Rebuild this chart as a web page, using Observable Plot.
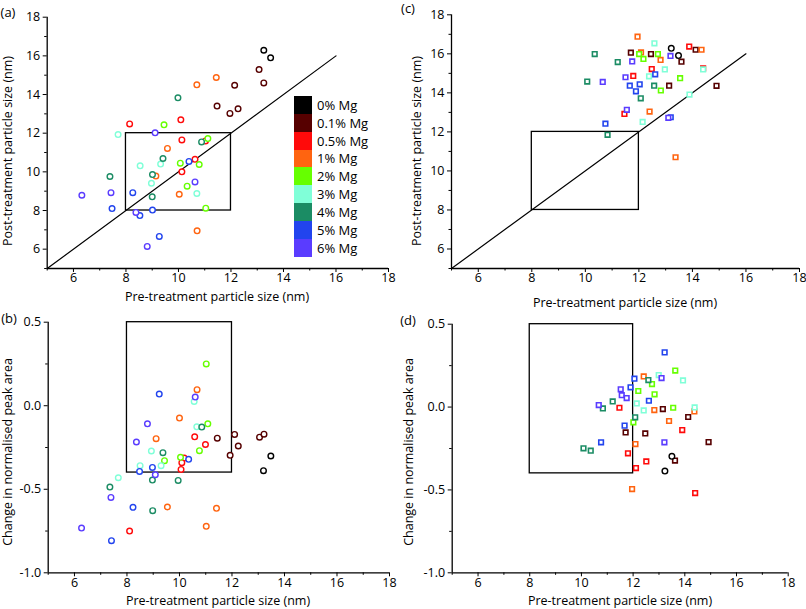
<!DOCTYPE html>
<html><head><meta charset="utf-8">
<script src="https://cdn.jsdelivr.net/npm/d3@7"></script>
<script src="https://cdn.jsdelivr.net/npm/@observablehq/plot@0.6"></script>
<style>
body{margin:0;background:#fff;}
#fig{position:relative;width:806px;height:609px;font-family:"Open Sans",sans-serif;overflow:hidden;background:#fff}
#fig svg{position:absolute;left:0;top:0}
.t{position:absolute;white-space:nowrap;color:#000;line-height:1;transform:translate(-50%,-50%)}
.yl{transform:translate(-50%,-50%) rotate(-90deg)}
.sw{position:absolute;width:18px}
</style></head><body><div id="fig"></div><script>
// ---- groups ----
const groups = ["0% Mg","0.1% Mg","0.5% Mg","1% Mg","2% Mg","3% Mg","4% Mg","5% Mg","6% Mg"];
const groupColors = ["#000000","#560000","#ff0a0a","#ff6410","#66ff00","#80ffd8","#1b8c64","#2244ee","#5a3cff"];

// ---- axis ticks ----
const sizeMajor = [6,8,10,12,14,16,18];
const sizeMinor = [5,7,9,11,13,15,17];
const changeMajor = [0.5,0,-0.5,-1.0];
const changeMinor = [0.25,-0.25,-0.75];
const sizeDomain = [5,18];
const changeDomain = [-1,0.5];

// ---- guides ----
const diagonal = [5,16];
const boxPre = [8,12];
const boxPost = [8,12];
const boxChange = [-0.4,0.5];

// ---- panel (a): pre vs post size (circles) ----
const aPre  = [13.25,13.51, 13.07,13.25,12.14,11.47,12.27,11.96, 8.14,10.09,10.13,11.03,10.63,10.13, 10.7,11.44,9.58,9.14,10.03,10.71, 9.45,11.12,10.07,10.79,10.33,11.04, 7.7,8.54,9.32,8.97,10.7, 9.98,10.88,9.41,9.01,7.39,9.0, 10.4,8.26,7.47,9.01,8.53,9.27, 9.11,10.63,7.43,8.38,8.81,6.32];
const aPost = [16.29,15.9, 15.29,14.6,14.48,13.4,13.26,13.02, 12.48,12.69,11.65,11.6,10.65,10.0, 14.5,14.88,11.21,9.78,8.84,6.95, 12.43,11.72,10.45,10.38,9.26,8.12, 11.93,10.31,10.4,9.41,8.88, 13.83,11.55,10.69,9.86,9.76,8.71, 10.54,8.92,8.1,8.02,7.74,6.66, 12.02,9.48,8.92,7.9,6.14,8.79];
const aGroup = [0,0, 1,1,1,1,1,1, 2,2,2,2,2,2, 3,3,3,3,3,3, 4,4,4,4,4,4, 5,5,5,5,5, 6,6,6,6,6,6, 7,7,7,7,7,7, 8,8,8,8,8,8];

// ---- panel (b): pre size vs change in peak area (circles) ----
const bPre    = [13.2,13.48, 11.44,12.1,13.05,13.22,12.24,11.93, 10.58,10.99,10.18,10.09,10.06,8.1, 10.67,10.0,9.11,9.54,11.41,11.02, 11.02,11.08,10.76,10.04,9.43, 10.56,10.66,8.93,8.5,9.3,7.67, 10.85,9.37,8.97,9.95,7.35,8.98, 9.23,10.35,8.97,8.48,8.23,7.41, 10.6,8.78,8.36,9.08,7.39,6.27];
const bChange = [-0.389,-0.301, -0.194,-0.172,-0.188,-0.17,-0.241,-0.297, -0.186,-0.232,-0.313,-0.341,-0.381,-0.75, 0.096,-0.074,-0.197,-0.606,-0.614,-0.722, 0.25,-0.108,-0.269,-0.309,-0.329, 0.026,-0.126,-0.271,-0.359,-0.359,-0.431, -0.128,-0.281,-0.445,-0.447,-0.487,-0.628, 0.07,-0.321,-0.369,-0.393,-0.608,-0.808, 0.052,-0.108,-0.217,-0.413,-0.549,-0.732];
const bGroup  = [0,0, 1,1,1,1,1,1, 2,2,2,2,2,2, 3,3,3,3,3,3, 4,4,4,4,4, 5,5,5,5,5,5, 6,6,6,6,6,6, 7,7,7,7,7,7, 8,8,8,8,8,8];

// ---- panel (c): pre vs post size (squares; 0% as circles) ----
const cPre  = [13.21,13.48, 11.7,12.45,13.59,14.12,13.13,14.9, 13.88,12.48,11.79,11.46,14.4, 12.08,11.95,14.34,12.81,12.4,13.37, 12.01,12.17,12.71,13.54,12.82, 12.58,12.97,12.38,13.89,12.14,14.4, 10.35,11.21,10.07,12.57,12.07,10.83, 12.61,11.66,12.03,11.89,10.75,13.19, 13.18,11.75,11.5,10.65,11.55,13.1];
const cPost = [16.28,15.91, 16.06,15.99,15.6,16.21,14.37,14.36, 16.37,15.22,14.87,12.92,15.25, 16.07,16.88,16.21,15.69,13.04,10.7, 15.99,15.74,15.99,14.75,14.12, 16.54,15.2,14.85,13.91,12.51,15.2, 15.99,15.58,14.58,14.37,13.72,11.85, 14.95,14.37,14.44,14.08,12.42,12.75, 15.89,15.61,14.8,14.56,13.13,12.72];
const cGroup = [0,0, 1,1,1,1,1,1, 2,2,2,2,2, 3,3,3,3,3,3, 4,4,4,4,4, 5,5,5,5,5,5, 6,6,6,6,6,6, 7,7,7,7,7,7, 8,8,8,8,8,8];

// ---- panel (d): pre size vs change in peak area (squares; 0% as circles) ----
const dPre    = [13.5,13.23, 13.15,14.13,11.71,12.47,14.92,13.62, 11.47,13.9,11.8,12.51,12.11,14.4, 12.41,12.82,14.37,13.39,12.09,11.96, 13.63,12.73,12.2,12.83,13.55,12.01, 12.99,13.93,12.14,12.41,14.38, 12.59,11.21,10.83,12.08,10.08,10.36, 13.22,12.05,11.9,12.61,11.67,10.76, 13.1,11.52,11.56,11.75,10.67,13.21];
const dChange = [-0.297,-0.386, -0.012,-0.06,-0.153,-0.159,-0.211,-0.323, -0.004,-0.139,-0.279,-0.328,-0.368,-0.519, 0.185,-0.018,-0.026,-0.084,-0.223,-0.495, 0.22,0.139,0.097,0.077,-0.004,-0.092, 0.193,0.161,0.022,-0.02,-0.002, 0.163,0.034,-0.008,-0.062,-0.249,-0.263, 0.33,0.171,0.119,0.038,-0.112,-0.213, 0.175,0.107,0.072,0.054,0.012,-0.213];
const dGroup  = [0,0, 1,1,1,1,1,1, 2,2,2,2,2,2, 3,3,3,3,3,3, 4,4,4,4,4,4, 5,5,5,5,5, 6,6,6,6,6,6, 7,7,7,7,7,7, 8,8,8,8,8,8];

const W = 806, H = 609;
const fig = document.getElementById("fig");

function rows(xs, ys, gs){ return xs.map((x,i)=>({x, y: ys[i], g: groups[gs[i]], gi: gs[i]})); }

function panel({L,R,T,B,yDomain,yMajor,yMinor,yFmt,box,diag,data,squares}){
  const circ = squares ? data.filter(d=>d.gi===0) : data;
  const sq = squares ? data.filter(d=>d.gi!==0) : [];
  const marks = [
    Plot.rect([0], {x1: ()=>boxPre[0], x2: ()=>boxPre[1], y1: ()=>box[0], y2: ()=>box[1], fill:"none", stroke:"#000", strokeWidth:1.3}),
  ];
  if (diag) marks.push(Plot.line(diagonal, {x: d=>d, y: d=>d, stroke:"#000", strokeWidth:1.2}));
  if (sq.length) marks.push(Plot.dot(sq, {x:"x", y:"y", stroke:"g", fill:"white", symbol:"square", r:2.6, strokeWidth:1.6}));
  marks.push(Plot.dot(circ, {x:"x", y:"y", stroke:"g", fill:"white", r:2.8, strokeWidth:1.4}));
  marks.push(
    Plot.ruleX([sizeDomain[0]], {stroke:"#000", strokeWidth:1.3}),
    Plot.ruleY([yDomain[0]], {stroke:"#000", strokeWidth:1.3}),
    Plot.axisX(sizeMajor, {tickSize:4, tickPadding:1, tickFormat: d=>String(d), fontSize:12.5, label:null}),
    Plot.axisX(sizeMinor, {tickSize:2.5, tickFormat: ()=>"", label:null}),
    Plot.axisY(yMajor, {tickSize:4, tickPadding:3, tickFormat: yFmt, fontSize:12.5, label:null}),
    Plot.axisY(yMinor, {tickSize:2.5, tickFormat: ()=>"", label:null})
  );
  const svg = Plot.plot({
    width: W, height: H,
    marginLeft: L, marginRight: W - R, marginTop: T, marginBottom: H - B,
    x: {domain: sizeDomain},
    y: {domain: yDomain},
    color: {type:"ordinal", domain: groups, range: groupColors},
    style: {background:"transparent", overflow:"visible", fontFamily:'"Open Sans", sans-serif', color:"#000"},
    marks
  });
  fig.appendChild(svg);
}

const intFmt = d => String(d);
const chgFmt = d => d.toFixed(1);

panel({L:46.7,R:388,T:16.7,B:268,yDomain:sizeDomain,yMajor:sizeMajor,yMinor:sizeMinor,yFmt:intFmt,box:boxPost,diag:true,data:rows(aPre,aPost,aGroup),squares:false});
panel({L:47.7,R:389,T:321.7,B:572.3,yDomain:changeDomain,yMajor:changeMajor,yMinor:changeMinor,yFmt:chgFmt,box:boxChange,diag:false,data:rows(bPre,bChange,bGroup),squares:false});
panel({L:451,R:799,T:14.3,B:268,yDomain:sizeDomain,yMajor:sizeMajor,yMinor:sizeMinor,yFmt:intFmt,box:boxPost,diag:true,data:rows(cPre,cPost,cGroup),squares:true});
panel({L:451.7,R:787.7,T:323.7,B:572.3,yDomain:changeDomain,yMajor:changeMajor,yMinor:changeMinor,yFmt:chgFmt,box:boxChange,diag:false,data:rows(dPre,dChange,dGroup),squares:true});

// ---- text labels ----
function label(txt, cx, cy, size, rot){
  const el = document.createElement("div");
  el.className = "t" + (rot ? " yl" : "");
  el.style.left = cx + "px"; el.style.top = cy + "px"; el.style.fontSize = size + "px";
  el.textContent = txt; fig.appendChild(el);
}
const xTitle = "Pre-treatment particle size (nm)";
const yTitleSize = "Post-treatment particle size (nm)";
const yTitleArea = "Change in normalised peak area";
label("(a)", 8, 12, 13); label("(b)", 9, 318, 13); label("(c)", 408, 8, 13); label("(d)", 408, 320, 13);
label(xTitle, 217, 297, 12.5); label(xTitle, 625, 303, 12.5);
label(xTitle, 218, 600.5, 12.5); label(xTitle, 620, 600.5, 12.5);
label(yTitleSize, 8, 151, 12.5, true); label(yTitleSize, 417, 151, 12.5, true);
label(yTitleArea, 8, 452, 12.5, true); label(yTitleArea, 409, 452, 12.5, true);

// ---- legend (panel a) ----
const swH = (256.7 - 96) / groups.length;
groups.forEach((g, i) => {
  const s = document.createElement("div");
  s.className = "sw";
  s.style.left = "294px"; s.style.top = (96 + i*swH) + "px"; s.style.height = (swH + 0.3) + "px";
  s.style.background = groupColors[i];
  fig.appendChild(s);
  const t = document.createElement("div");
  t.className = "t"; t.style.transform = "translate(0,-50%)";
  t.style.left = "317px"; t.style.top = (96 + (i+0.5)*swH) + "px"; t.style.fontSize = "13px";
  t.textContent = g; fig.appendChild(t);
});
</script></body></html>
